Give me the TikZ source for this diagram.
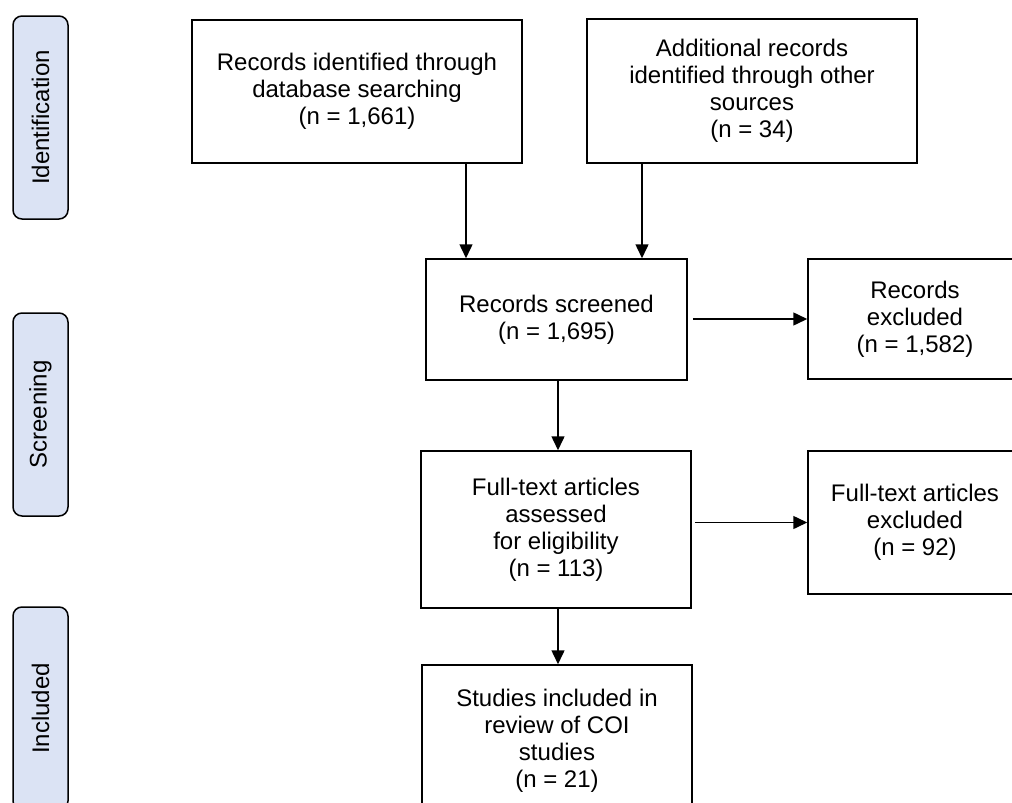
\documentclass[tikz,border=0pt]{standalone}
\usepackage{fontspec}
\setmainfont{Liberation Sans}
\usepackage{tikz}
\usetikzlibrary{positioning, calc, arrows.meta}
\definecolor{phase_blue}{RGB}{219, 227, 244}

\begin{document}
\begin{tikzpicture}[
        x=1pt, y=-1pt,
        font=\fontsize{24}{27}\selectfont,
        every node/.style={inner sep=2pt},
        box/.style={draw, line width=1.5pt, rectangle, align=center},
        phase/.style={draw, line width=1.5pt, rounded corners=9pt, fill=phase_blue,
            minimum width=55pt, minimum height=203pt},
        arr/.style={line width=1.5pt, -{Triangle[length=14pt, width=13pt]}}
    ]
        % -------- Area --------
        % coordinates in px of the 1012 x 803 frame, y downwards
        \useasboundingbox (0, 0) rectangle (1012, 803);
        \clip (0, 0) rectangle (1012, 803);

        % -------- Phases (left) --------
        \node[phase] (ident) at (40.5, 117.5) {};
        \node[rotate=90] (identtxt) at (ident.center) {Identification};
        \node[phase] (screen) at (40.5, 414.5) {};
        \node[rotate=90] (screentxt) at (screen.center) {Screening};
        \node[phase] (incl) at (40.5, 708.5) {};
        \node[rotate=90] (incltxt) at (incl.center) {Included};

        % -------- Identification --------
        \node[box, minimum width=330pt, minimum height=143pt] (db) at (357, 91.5)
            {Records identified through\\database searching\\(n = 1,661)};
        \node[box, minimum width=330pt, minimum height=144pt] (other) at (752, 91)
            {Additional records\\identified through other\\sources\\(n = 34)};

        % -------- Screening --------
        \node[box, minimum width=261pt, minimum height=121pt] (screened) at (556.5, 319.5)
            {Records screened\\(n = 1,695)};
        \node[box, minimum width=214pt, minimum height=120pt] (recex) at (915, 319)
            {Records\\excluded\\(n = 1,582)};
        \node[box, minimum width=270pt, minimum height=157pt] (fulltext) at (556, 529.5)
            {Full-text articles\\assessed\\for eligibility\\(n = 113)};
        \node[box, minimum width=214pt, minimum height=143pt] (ftex) at (915, 522.5)
            {Full-text articles\\excluded\\(n = 92)};

        % -------- Included --------
        \node[box, minimum width=270pt, minimum height=152pt] (studies) at (557, 741)
            {Studies included in\\review of COI\\studies\\(n = 21)};

        % -------- Arrows --------
        \coordinate (dbx) at (466, 0);
        \coordinate (otherx) at (642, 0);
        \coordinate (midx) at (558, 0);
        \draw[arr] (db.south -| dbx) -- (screened.north -| dbx);
        \draw[arr] (other.south -| otherx) -- (screened.north -| otherx);
        \draw[arr, shorten <=5pt] (screened.east |- recex.west) -- (recex.west);
        \draw[arr] (screened.south -| midx) -- (fulltext.north -| midx);
        \draw[arr, shorten <=3pt] (fulltext.east |- ftex.west) -- (ftex.west);
        \draw[arr] (fulltext.south -| midx) -- (studies.north -| midx);

    \end{tikzpicture}
\end{document}
